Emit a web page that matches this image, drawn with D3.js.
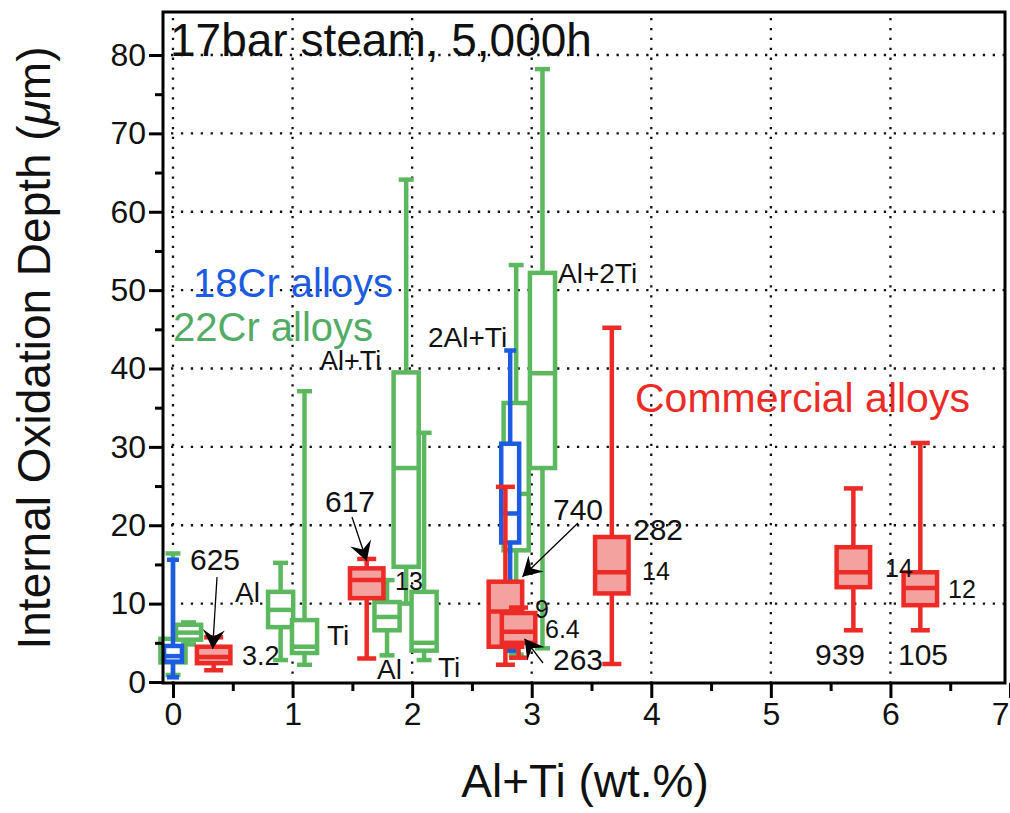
<!DOCTYPE html>
<html>
<head>
<meta charset="utf-8">
<script src="https://cdn.jsdelivr.net/npm/d3@7"></script>
<style>
  body { margin: 0; background: #fff; }
  svg { display: block; }
  text { font-family: "Liberation Sans", Arial, Helvetica, sans-serif; }
</style>
</head>
<body>
<svg id="chart" width="1010" height="813"></svg>
<script>
// ---- axes ----
const xTickValues = [0, 1, 2, 3, 4, 5, 6, 7];
const xMinorTicks = [0.5, 1.5, 2.5, 3.5, 4.5, 5.5, 6.5];
const yTickValues = [0, 10, 20, 30, 40, 50, 60, 70, 80];
const yMinorTicks = [5, 15, 25, 35, 45, 55, 65, 75];
const xGrid = [0, 1, 2, 3, 4, 5, 6];
const yGrid = [10, 20, 30, 40, 50, 60, 70, 80];

// ---- 22Cr alloys (green) ----
const cr22X   = [0.00, 0.13, 0.90, 1.10, 1.79, 1.95, 2.10, 2.87, 3.09];
const cr22Min = [0.9,  4.8,  2.8,  2.2,  3.4, 10.0,  2.8,  3.5,  4.3];
const cr22Q1  = [2.5,  5.4,  7.0,  3.7,  6.6, 14.7,  4.0, 16.8, 27.3];
const cr22Med = [4.0,  6.3,  9.2,  4.5,  8.3, 27.3,  5.0, 24.0, 39.4];
const cr22Q3  = [5.5,  7.3, 11.5,  7.9, 10.2, 39.5, 11.5, 35.6, 52.2];
const cr22Max = [16.4, 7.6, 15.2, 37.1, 13.0, 64.1, 31.8, 53.2, 78.2];

// ---- 18Cr alloys (blue) ----
const cr18X   = [0.00, 2.82];
const cr18Min = [0.6,  4.0];
const cr18Q1  = [2.6, 17.8];
const cr18Med = [3.3, 21.5];
const cr18Q3  = [4.6, 30.4];
const cr18Max = [15.6, 42.3];

// ---- commercial alloys (red) ----
const comNames = ["625", "617", "740", "263", "282", "939", "105"];
const comX     = [0.34, 1.62, 2.78, 2.89, 3.67, 5.69, 6.25];
const comMin   = [1.5,  3.0,  2.2,  3.1,  2.3,  6.6,  6.6];
const comQ1    = [2.4, 10.7,  4.5,  5.0, 11.3, 12.1,  9.8];
const comMed   = [3.2, 13.0,  9.0,  6.4, 14.0, 14.0, 12.0];
const comQ3    = [4.5, 14.5, 12.8,  8.8, 18.5, 17.2, 14.0];
const comMax   = [5.7, 15.7, 24.9,  9.5, 45.2, 24.7, 30.5];
const comMedLabels = ["3.2", "13", "9", "6.4", "14", "14", "12"];

const GREEN = "#5cb85f";
const BLUE = "#1d5be3";
const RED = "#ec2a26";
const PINK = "#f3a2a0";

const svg = d3.select("#chart");
const frame = { left: 163, right: 1005, top: 12, bottom: 683 };

const x = d3.scaleLinear().domain([0, 7]).range([173, 1010]);
const y = d3.scaleLinear().domain([0, 80]).range([682, 55]);

// dotted grid
const grid = svg.append("g")
  .attr("stroke", "#111")
  .attr("stroke-width", 2.3)
  .attr("stroke-dasharray", "2.3 7.6");
grid.selectAll("line.h").data(yGrid).join("line")
  .attr("x1", frame.left + 8).attr("x2", frame.right)
  .attr("y1", d => y(d)).attr("y2", d => y(d));
grid.selectAll("line.v").data(xGrid).join("line")
  .attr("x1", d => x(d)).attr("x2", d => x(d))
  .attr("y1", frame.top + 6).attr("y2", frame.bottom);

// box-plot helper
function drawBoxes(g, xs, mins, q1s, meds, q3s, maxs, opt) {
  const half = (u) => (x(u + opt.w / 2) - x(u - opt.w / 2)) / 2;
  xs.forEach((u, i) => {
    const cx = x(u), hw = half(u), cw = opt.cap / 2;
    const grp = g.append("g")
      .attr("stroke", opt.stroke)
      .attr("stroke-width", opt.sw)
      .attr("fill", "none");
    // whiskers
    grp.append("line").attr("x1", cx).attr("x2", cx).attr("y1", y(q3s[i])).attr("y2", y(maxs[i]));
    grp.append("line").attr("x1", cx).attr("x2", cx).attr("y1", y(q1s[i])).attr("y2", y(mins[i]));
    grp.append("line").attr("x1", cx - cw).attr("x2", cx + cw).attr("y1", y(maxs[i])).attr("y2", y(maxs[i]));
    grp.append("line").attr("x1", cx - cw).attr("x2", cx + cw).attr("y1", y(mins[i])).attr("y2", y(mins[i]));
    // box
    grp.append("rect")
      .attr("x", cx - hw).attr("width", 2 * hw)
      .attr("y", y(q3s[i])).attr("height", y(q1s[i]) - y(q3s[i]))
      .attr("fill", opt.fill);
    // median
    grp.append("line").attr("x1", cx - hw).attr("x2", cx + hw)
      .attr("y1", y(meds[i])).attr("y2", y(meds[i]));
  });
}

const marks = svg.append("g");
drawBoxes(marks, cr22X, cr22Min, cr22Q1, cr22Med, cr22Q3, cr22Max,
  { stroke: GREEN, fill: "#fff", w: 0.21, cap: 15, sw: 4.5 });
drawBoxes(marks, cr18X, cr18Min, cr18Q1, cr18Med, cr18Q3, cr18Max,
  { stroke: BLUE, fill: "#fff", w: 0.15, cap: 12, sw: 4.5 });
drawBoxes(marks, comX, comMin, comQ1, comMed, comQ3, comMax,
  { stroke: RED, fill: PINK, w: 0.28, cap: 19, sw: 4.5 });

// frame
svg.append("rect")
  .attr("x", frame.left).attr("y", frame.top)
  .attr("width", frame.right - frame.left).attr("height", frame.bottom - frame.top)
  .attr("fill", "none").attr("stroke", "#000").attr("stroke-width", 3);

// axes
const xAxis = svg.append("g").attr("transform", `translate(0,${frame.bottom})`)
  .call(d3.axisBottom(x).tickValues(xTickValues).tickSize(15).tickPadding(4).tickFormat(d3.format("d")));
svg.append("g").attr("transform", `translate(0,${frame.bottom})`)
  .call(d3.axisBottom(x).tickValues(xMinorTicks).tickSize(8).tickFormat(""));
const yAxis = svg.append("g").attr("transform", `translate(${frame.left},0)`)
  .call(d3.axisLeft(y).tickValues(yTickValues).tickSize(14).tickPadding(3).tickFormat(d3.format("d")));
svg.append("g").attr("transform", `translate(${frame.left},0)`)
  .call(d3.axisLeft(y).tickValues(yMinorTicks).tickSize(8).tickFormat(""));
svg.selectAll(".domain").remove();
svg.selectAll(".tick line").attr("stroke", "#000").attr("stroke-width", 3);
xAxis.selectAll(".tick text").attr("font-size", 32).attr("fill", "#111")
  .attr("font-family", "Liberation Sans, Arial, sans-serif");
// last x label sits at the window edge: right-align it so it stays readable
xAxis.selectAll(".tick text").filter(d => d === 7).attr("text-anchor", "end").attr("x", -1);
yAxis.selectAll(".tick text").attr("font-size", 32).attr("fill", "#111")
  .attr("font-family", "Liberation Sans, Arial, sans-serif");

// axis titles
svg.append("text")
  .attr("x", 585).attr("y", 797).attr("text-anchor", "middle")
  .attr("font-size", 46).attr("fill", "#111")
  .text("Al+Ti (wt.%)");
const yt = svg.append("text")
  .attr("transform", "translate(50,348) rotate(-90)")
  .attr("text-anchor", "middle").attr("font-size", 46).attr("fill", "#111");
yt.append("tspan").text("Internal Oxidation Depth (");
yt.append("tspan").attr("font-style", "italic").text("\u03bc");
yt.append("tspan").text("m)");

// text annotations
const notes = [
  { t: "17bar steam, 5,000h", px: 170, py: 56, s: 46, c: "#111" },
  { t: "18Cr alloys", px: 193, py: 297, s: 40, c: BLUE },
  { t: "22Cr alloys", px: 173, py: 341, s: 40, c: "#52ac66" },
  { t: "Commercial alloys", px: 635, py: 412, s: 41, c: RED },
  { t: "Al+Ti", px: 320, py: 370, s: 27, c: "#111" },
  { t: "2Al+Ti", px: 428, py: 347, s: 28, c: "#111" },
  { t: "Al+2Ti", px: 558, py: 283, s: 28, c: "#111" },
  { t: "Al", px: 235, py: 602, s: 28, c: "#111" },
  { t: "Ti", px: 327, py: 645, s: 28, c: "#111" },
  { t: "Al", px: 377, py: 679, s: 28, c: "#111" },
  { t: "Ti", px: 438, py: 677, s: 28, c: "#111" }
];
// commercial alloy names and median values
const namePos = [[190, 570], [325, 512], [553, 520], [553, 670], [633, 540], [815, 665], [898, 665]];
const medPos  = [[242, 665], [395, 590], [535, 618], [545, 638], [642, 580], [885, 577], [948, 598]];
comNames.forEach((n, i) => notes.push({ t: n, px: namePos[i][0], py: namePos[i][1], s: 30, c: "#111" }));
comMedLabels.forEach((n, i) => notes.push({ t: n, px: medPos[i][0], py: medPos[i][1], s: i === 0 ? 27 : 25, c: "#111" }));

svg.append("g").selectAll("text").data(notes).join("text")
  .attr("x", d => d.px).attr("y", d => d.py)
  .attr("font-size", d => d.s).attr("fill", d => d.c)
  .text(d => d.t);

// arrows from names to boxes
svg.append("defs").append("marker")
  .attr("id", "head").attr("markerUnits", "userSpaceOnUse")
  .attr("markerWidth", 24).attr("markerHeight", 24)
  .attr("viewBox", "-20 -12 22 24").attr("refX", 0).attr("refY", 0)
  .attr("orient", "auto")
  .append("path").attr("d", "M0,0 L-19,-11 L-12,0 L-19,11 Z").attr("fill", "#000");

const arrowTails = [[217, 577], [352, 517], [578, 523], [543, 663]];
const arrowTargets = [
  [x(comX[0]) - 1, y(comQ3[0]) + 2],
  [x(comX[1]), y(comMax[1]) + 2],
  [x(comX[2]) + 17, y(comQ3[2]) - 5],
  [x(comX[3]) + 6, y(comQ1[3]) - 4]
];
svg.append("g").selectAll("line").data(arrowTails).join("line")
  .attr("x1", d => d[0]).attr("y1", d => d[1])
  .attr("x2", (d, i) => arrowTargets[i][0]).attr("y2", (d, i) => arrowTargets[i][1])
  .attr("stroke", "#000").attr("stroke-width", 1.3)
  .attr("marker-end", "url(#head)");
</script>
</body>
</html>
